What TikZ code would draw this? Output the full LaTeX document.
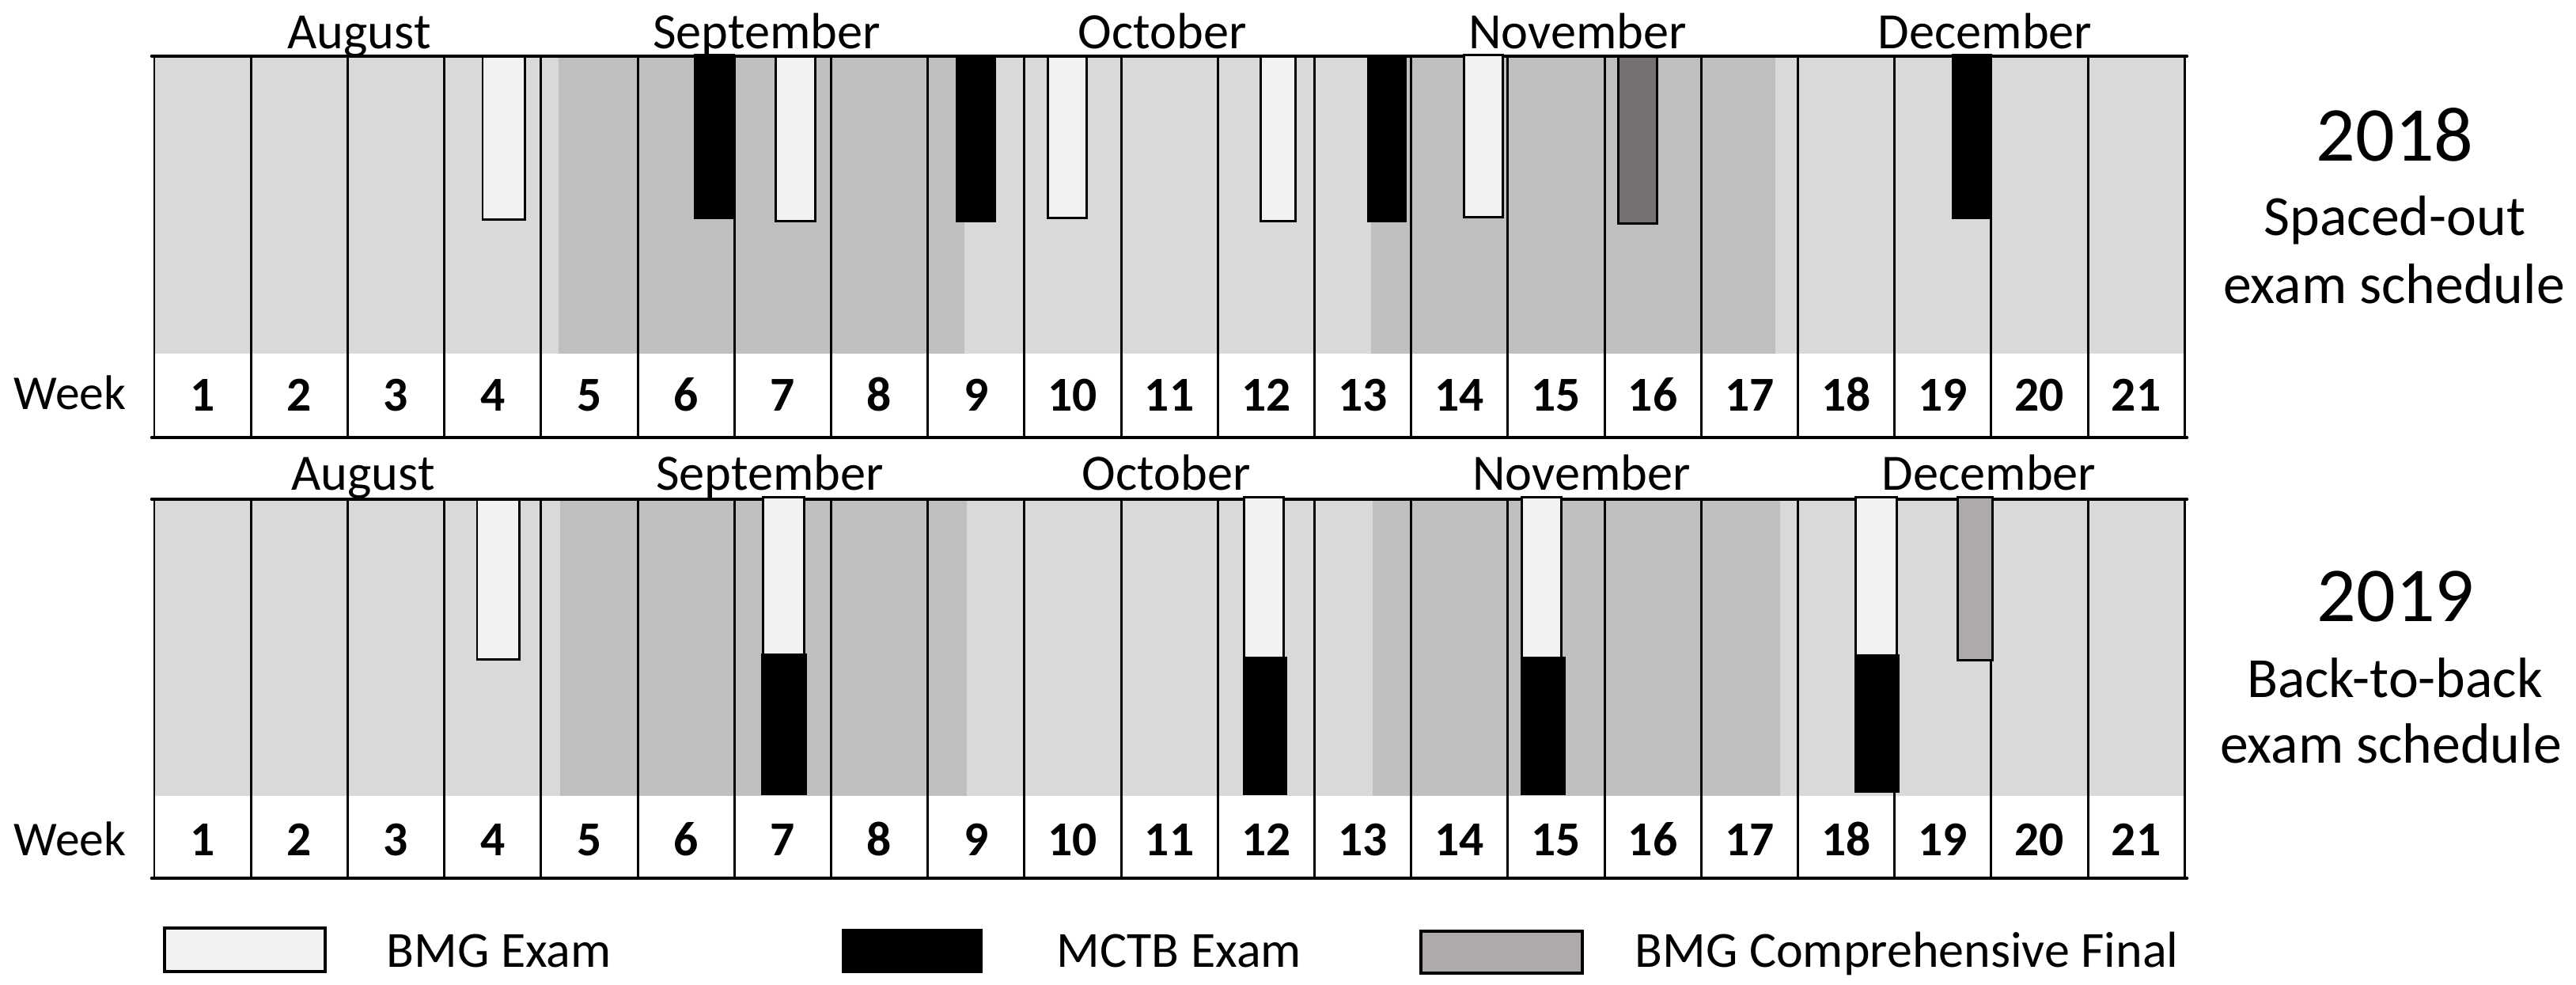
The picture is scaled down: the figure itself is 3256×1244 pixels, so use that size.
\documentclass[tikz,border=0pt]{standalone}
\usepackage{fontspec}
\setmainfont{Carlito}
\definecolor{bgA}{HTML}{D9D9D9}
\definecolor{bgB}{HTML}{BFBFBF}
\definecolor{bmgc}{HTML}{F2F2F2}
\definecolor{compA}{HTML}{767171}
\definecolor{compB}{HTML}{AEAAAA}
\begin{document}
\begin{tikzpicture}[x=0.01cm,y=-0.01cm,
  gridline/.style={line width=0.85pt,black},
  frameline/.style={line width=1.3pt,black,line cap=round},
  bmgbox/.style={fill=bmgc,draw=black,line width=0.85pt},
  mctbbox/.style={fill=black,draw=black,line width=0.85pt},
  compAbox/.style={fill=compA,draw=black,line width=0.85pt},
  compBbox/.style={fill=compB,draw=black,line width=0.85pt},
  wknum/.style={anchor=base,inner sep=0pt,font=\fontsize{17.5pt}{20pt}\selectfont\bfseries},
  wklabel/.style={anchor=base west,inner sep=0pt,font=\fontsize{17.5pt}{20pt}\selectfont},
  month/.style={anchor=base,inner sep=0pt,font=\fontsize{18.3pt}{22pt}\selectfont},
  year/.style={anchor=base,inner sep=0pt,font=\fontsize{27.9pt}{32pt}\selectfont},
  subt/.style={anchor=base,inner sep=0pt,font=\fontsize{20.4pt}{24pt}\selectfont},
  legtext/.style={anchor=base west,inner sep=0pt,font=\fontsize{18.2pt}{22pt}\selectfont}
]
\useasboundingbox (0,0) rectangle (3256,1244);

% ===== Panel 2018 =====
\fill[bgA] (195,71) rectangle (2761.2,447);
\fill[bgB] (706,71) rectangle (1219,447);
\fill[bgB] (1733,71) rectangle (2244,447);
\foreach \k in {0,...,21} \draw[gridline] ({195+\k*122.2},71) -- ({195+\k*122.2},553);
\draw[frameline] (192,71) -- (2764,71);
\draw[frameline] (192,553) -- (2764,553);
% exams
\draw[bmgbox] (610,71) rectangle (663,277);
\draw[bmgbox] (980,71) rectangle (1030,279);
\draw[bmgbox] (1324,71) rectangle (1373,275);
\draw[bmgbox] (1593,71) rectangle (1637,279);
\draw[bmgbox] (1850,69) rectangle (1899,274);
\draw[mctbbox] (878,69) rectangle (927,275);
\draw[mctbbox] (1209,71) rectangle (1257,279);
\draw[mctbbox] (1729,71) rectangle (1776,279);
\draw[mctbbox] (2468,69) rectangle (2516,275);
\draw[compAbox] (2045,71) rectangle (2094,282);
\foreach \k in {1,...,21} \node[wknum] (ta\k) at ({195+(\k-0.5)*122.2},519) {\k};
\node[wklabel] (tweek) at (17,517) {Week};
\node[month] (taug) at (454,61) {August};
\node[month] (tsep) at (969,61) {September};
\node[month] (toct) at (1469,61) {October};
\node[month] (tnov) at (1994,61) {November};
\node[month] (tdec) at (2509,61) {December};
\node[year] (tyear) at (3027,203) {2018};
\node[subt] (tsub1) at (3027,297) {Spaced-out};
\node[subt] (tsub2) at (3026,383) {exam schedule};

% ===== Panel 2019 =====
\fill[bgA] (195,631) rectangle (2761.2,1006);
\fill[bgB] (708,631) rectangle (1222,1006);
\fill[bgB] (1735,631) rectangle (2250,1006);
\foreach \k in {0,...,21} \draw[gridline] ({195+\k*122.2},631) -- ({195+\k*122.2},1110);
\draw[frameline] (192,631) -- (2764,631);
\draw[frameline] (192,1110) -- (2764,1110);
\draw[bmgbox] (603,631) rectangle (656,833);
\draw[bmgbox] (964,628) rectangle (1016,827);
\draw[bmgbox] (1572,628) rectangle (1622,831);
\draw[bmgbox] (1923,628) rectangle (1973,831);
\draw[bmgbox] (2345,628) rectangle (2397,828);
\draw[mctbbox] (963,827) rectangle (1018,1003);
\draw[mctbbox] (1572,831) rectangle (1625,1003);
\draw[mctbbox] (1923,831) rectangle (1977,1003);
\draw[mctbbox] (2345,828) rectangle (2399,1000);
\draw[compBbox] (2474,628) rectangle (2518,834);
\foreach \k in {1,...,21} \node[wknum] (ba\k) at ({195+(\k-0.5)*122.2},1081) {\k};
\node[wklabel] (bweek) at (17,1081) {Week};
\node[month] (baug) at (459,619) {August};
\node[month] (bsep) at (973,619) {September};
\node[month] (boct) at (1474,619) {October};
\node[month] (bnov) at (1999,619) {November};
\node[month] (bdec) at (2514,619) {December};
\node[year] (byear) at (3028,785) {2019};
\node[subt] (bsub1) at (3027,881) {Back-to-back};
\node[subt] (bsub2) at (3022,964) {exam schedule};

% ===== Legend =====
\draw[bmgbox,line width=1.1pt] (208,1173) rectangle (411,1228);
\draw[mctbbox] (1065,1175) rectangle (1240,1228);
\draw[compBbox,line width=1.1pt] (1796,1177) rectangle (2000,1230);
\node[legtext] (lbmg) at (488,1222) {BMG Exam};
\node[legtext] (lmctb) at (1335,1222) {MCTB Exam};
\node[legtext] (lcomp) at (2066,1222) {BMG Comprehensive Final};
\end{tikzpicture}
\end{document}
